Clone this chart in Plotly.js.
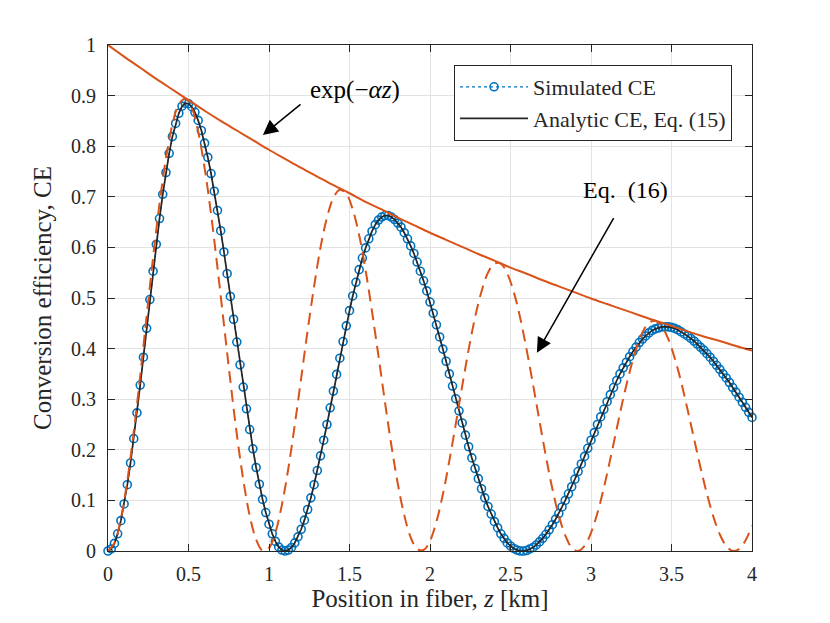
<!DOCTYPE html>
<html>
<head>
<meta charset="utf-8">
<script src="https://cdn.plot.ly/plotly-3.0.1.min.js"></script>
<style>
  html, body { margin: 0; padding: 0; background: #fff; }
  #grafico { width: 830px; height: 623px; }
</style>
</head>
<body>
<div id="grafico"></div>
<script>
// Posição ao longo da fibra (km): passo de amostragem de cada curva
const zStepSim = 0.02;
const zStepEq16 = 0.04;
const zStepEnv = 0.1;

// CE simulada (pontos) - z = 0, 0.02, ..., 4
const ceSim = [
  0.000, 0.004, 0.015, 0.034, 0.060, 0.093, 0.131, 0.174, 0.222, 0.273,
  0.328, 0.383, 0.440, 0.497, 0.553, 0.606, 0.657, 0.705, 0.748, 0.786,
  0.819, 0.845, 0.865, 0.879, 0.885, 0.884,
  0.878, 0.867, 0.851, 0.831, 0.806, 0.778, 0.746, 0.711, 0.673, 0.633,
  0.591, 0.548, 0.503, 0.458, 0.413, 0.368, 0.324, 0.281, 0.240, 0.202,
  0.165, 0.132, 0.102, 0.076, 0.053, 0.034, 0.019, 0.008, 0.002, 0.000,
  0.002, 0.007, 0.016, 0.028, 0.043, 0.061, 0.082, 0.105, 0.131, 0.159,
  0.188, 0.219, 0.250, 0.283, 0.316, 0.349, 0.381, 0.414, 0.445, 0.475,
  0.504, 0.531, 0.556, 0.579, 0.599, 0.617, 0.632, 0.645, 0.654, 0.660,
  0.663, 0.663,
  0.660, 0.655, 0.648, 0.640, 0.629, 0.617, 0.603, 0.588, 0.571, 0.553,
  0.534, 0.514, 0.492, 0.470, 0.447, 0.423, 0.399, 0.375, 0.350, 0.326,
  0.301, 0.277, 0.253, 0.229, 0.206, 0.184, 0.163, 0.143, 0.123, 0.105,
  0.088, 0.073, 0.058, 0.046, 0.034, 0.025, 0.016, 0.010, 0.005, 0.002,
  0.000,
  0.000, 0.001, 0.004, 0.007, 0.012, 0.018, 0.025, 0.033, 0.042, 0.052,
  0.063, 0.074, 0.087, 0.100, 0.113, 0.127, 0.142, 0.157, 0.172, 0.187,
  0.203, 0.219, 0.234, 0.250, 0.265, 0.280, 0.295, 0.309, 0.323, 0.337,
  0.350, 0.362, 0.373, 0.384, 0.394, 0.403, 0.412, 0.419, 0.425, 0.431,
  0.436, 0.439, 0.441, 0.443, 0.443, 0.443, 0.442,
  0.440, 0.437, 0.433, 0.429, 0.425, 0.420, 0.415, 0.409, 0.403, 0.397,
  0.390, 0.383, 0.375, 0.367, 0.359, 0.350, 0.342, 0.333, 0.323, 0.314,
  0.304, 0.294, 0.284, 0.274, 0.264
];

// Eq. (16) - z = 0, 0.04, ..., 4
const ceEq16 = [
  0.000, 0.016, 0.064, 0.139, 0.236, 0.346, 0.464, 0.580, 0.686, 0.776,
  0.843, 0.883, 0.894, 0.876, 0.829, 0.757, 0.666, 0.560, 0.448, 0.336,
  0.231, 0.141, 0.070, 0.023, 0.001, 0.006, 0.037, 0.091, 0.163, 0.249,
  0.342, 0.436, 0.523, 0.600, 0.659, 0.698, 0.714, 0.706, 0.675, 0.624,
  0.555, 0.473, 0.385, 0.295, 0.209, 0.133, 0.071, 0.027, 0.004, 0.002,
  0.020, 0.058, 0.112, 0.178, 0.251, 0.326, 0.398, 0.462, 0.513, 0.550,
  0.568, 0.568, 0.548, 0.512, 0.461, 0.398, 0.329, 0.257, 0.187, 0.123,
  0.070, 0.031, 0.007, 0.000, 0.010, 0.036, 0.075, 0.125, 0.182, 0.242,
  0.301, 0.354, 0.399, 0.432, 0.451, 0.455, 0.444, 0.419, 0.381, 0.334,
  0.279, 0.222, 0.165, 0.113, 0.068, 0.033, 0.010, 0.000, 0.004, 0.021,
  0.050
];

// exp(-alpha z) - z = 0, 0.1, ..., 4
const envExp = [
  1.000, 0.977, 0.955, 0.933, 0.912, 0.891, 0.870, 0.850, 0.831, 0.812,
  0.793, 0.775, 0.757, 0.740, 0.723, 0.707, 0.690, 0.675, 0.659, 0.644,
  0.629, 0.615, 0.601, 0.587, 0.574, 0.560, 0.548, 0.535, 0.523, 0.511,
  0.499, 0.488, 0.477, 0.466, 0.455, 0.445, 0.434, 0.424, 0.415, 0.405,
  0.396
];

// Marcas dos eixos
const xTicks = [0, 0.5, 1, 1.5, 2, 2.5, 3, 3.5, 4];
const yTicks = [0, 0.1, 0.2, 0.3, 0.4, 0.5, 0.6, 0.7, 0.8, 0.9, 1];

const fonte = '"Liberation Serif", "DejaVu Serif", serif';
const azul = '#0072BD';
const laranja = '#D95319';
const preto = '#262626';

const dados = [
  {
    name: 'Simulated CE',
    x0: 0, dx: zStepSim, y: ceSim,
    type: 'scatter', mode: 'lines+markers',
    line: { color: azul, width: 1.2, dash: 'dot' },
    marker: { symbol: 'circle-open', size: 8, color: azul, line: { width: 1.6, color: azul } },
    cliponaxis: false
  },
  {
    name: 'Analytic CE, Eq. (15)',
    x0: 0, dx: zStepSim, y: ceSim,
    type: 'scatter', mode: 'lines',
    line: { color: preto, width: 1.7 },
    cliponaxis: false
  },
  {
    name: 'Eq. (16)',
    x0: 0, dx: zStepEq16, y: ceEq16,
    type: 'scatter', mode: 'lines',
    line: { color: laranja, width: 2, dash: '12px,7px', shape: 'spline' },
    showlegend: false
  },
  {
    name: 'exp(-αz)',
    x0: 0, dx: zStepEnv, y: envExp,
    type: 'scatter', mode: 'lines',
    line: { color: laranja, width: 2, shape: 'spline' },
    showlegend: false
  }
];

const eixoBase = {
  showgrid: true,
  gridcolor: '#e3e3e3',
  gridwidth: 1,
  zeroline: false,
  showline: true,
  linecolor: preto,
  linewidth: 1,
  mirror: 'ticks',
  ticks: 'inside',
  ticklen: 7,
  tickwidth: 1,
  tickcolor: preto,
  tickfont: { family: fonte, size: 20, color: preto }
};

const layout = {
  width: 830,
  height: 623,
  margin: { l: 108, r: 78, t: 45, b: 72 },
  paper_bgcolor: '#ffffff',
  plot_bgcolor: '#ffffff',
  font: { family: fonte, color: preto },
  showlegend: true,
  legend: {
    x: 0.969, y: 0.9605, xanchor: 'right', yanchor: 'top',
    bgcolor: '#ffffff', bordercolor: preto, borderwidth: 1,
    font: { family: fonte, size: 22, color: preto },
    itemwidth: 68,
    tracegroupgap: 0
  },
  xaxis: Object.assign({}, eixoBase, {
    range: [0, 4],
    tickvals: xTicks,
    ticklabelstandoff: 5,
    title: {
      text: 'Position in fiber, <i>z</i> [km]',
      font: { family: fonte, size: 25, color: preto },
      standoff: 2
    }
  }),
  yaxis: Object.assign({}, eixoBase, {
    range: [0, 1],
    tickvals: yTicks,
    ticklabelstandoff: 7,
    title: {
      text: 'Conversion efficiency, CE',
      font: { family: fonte, size: 25, color: preto },
      standoff: 12
    }
  }),
  annotations: [
    {
      x: 0.962, y: 0.822, ax: 1.205, ay: 0.885,
      xref: 'x', yref: 'y', axref: 'x', ayref: 'y',
      text: '', showarrow: true,
      arrowhead: 2, arrowsize: 2, arrowwidth: 1.5, arrowcolor: '#000000'
    },
    {
      x: 1.244, y: 0.911, xref: 'x', yref: 'y',
      xanchor: 'left', yanchor: 'middle',
      text: 'exp(−<i>αz</i>)', showarrow: false,
      font: { family: fonte, size: 25, color: '#000000' }
    },
    {
      x: 2.664, y: 0.392, ax: 3.146, ay: 0.661,
      xref: 'x', yref: 'y', axref: 'x', ayref: 'y',
      text: '', showarrow: true,
      arrowhead: 2, arrowsize: 2, arrowwidth: 1.5, arrowcolor: '#000000'
    },
    {
      x: 3.215, y: 0.713, xref: 'x', yref: 'y',
      xanchor: 'center', yanchor: 'middle',
      text: 'Eq.  (16)', showarrow: false,
      font: { family: fonte, size: 24, color: '#000000' }
    }
  ]
};

Plotly.newPlot('grafico', dados, layout, { displayModeBar: false, staticPlot: true });
</script>
</body>
</html>
